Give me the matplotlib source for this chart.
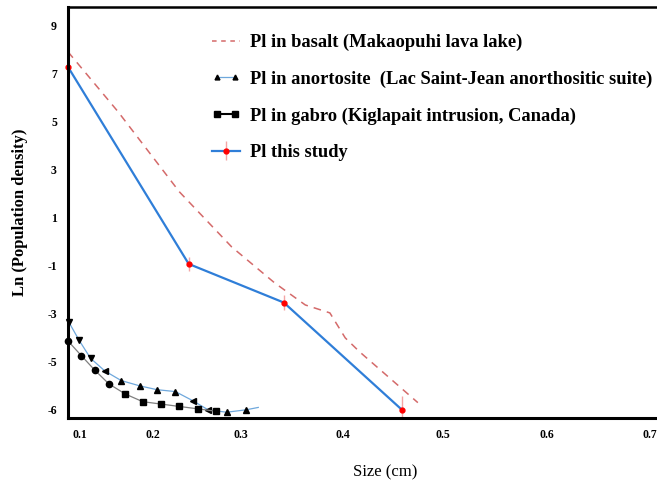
import numpy as np
import matplotlib
matplotlib.use("Agg")
import matplotlib.pyplot as plt
from matplotlib.lines import Line2D
from matplotlib.legend_handler import HandlerLine2D

plt.rcParams['font.family'] = ['Liberation Serif', 'DejaVu Serif']

# Pl in basalt (Makaopuhi lava lake)
basalt_x = [0.131, 0.180, 0.240, 0.291, 0.333, 0.363, 0.387, 0.402, 0.416, 0.473]
basalt_y = [7.92, 5.42, 2.08, -0.21, -1.71, -2.63, -2.96, -4.00, -4.58, -5.85]

# Pl in anortosite (Lac Saint-Jean)
anor_x = [0.132, 0.142, 0.153, 0.167, 0.183, 0.201, 0.218, 0.236, 0.253, 0.268, 0.286, 0.305, 0.317]
anor_y = [-3.36, -4.11, -4.85, -5.19, -5.39, -5.50, -5.58, -5.62, -5.81, -6.00, -6.05, -6.00, -5.95]
anor_markers = ['v', 'v', 'v', '<', '^', '^', '^', '^', '<', '<', '^', '^', '']

# Pl in gabro (Kiglapait)
gab_x = [0.131, 0.144, 0.157, 0.171, 0.187, 0.204, 0.222, 0.240, 0.258, 0.276]
gab_y = [-4.13, -4.74, -5.17, -5.46, -5.67, -5.83, -5.88, -5.93, -5.98, -6.03]
gab_markers = ['o', 'o', 'o', 'o', 's', 's', 's', 's', 's', 's']

# Pl this study
study_x = [0.131, 0.249, 0.342, 0.458]
study_y = [7.29, -0.92, -2.53, -6.01]
study_err = [0.3, 0.3, 0.3, 0.3]

xtick_pos = [0.143, 0.214, 0.300, 0.400, 0.497, 0.599, 0.700]
xtick_labels = ['0.1', '0.2', '0.3', '0.4', '0.5', '0.6', '0.7']
ytick_pos = [9, 7, 5, 3, 1, -1, -3, -5, -6]
ytick_labels = ['9', '7', '5', '3', '1', '-1', '-3', '-5', '-6']


def fwd(y):
    y = np.asarray(y, dtype=float)
    return np.where(y >= -5, y, -5 + 2 * (y + 5))


def inv(y):
    y = np.asarray(y, dtype=float)
    return np.where(y >= -5, y, -5 + (y + 5) / 2)


fig = plt.figure(figsize=(6.57, 4.83), dpi=100)
ax = fig.add_axes([0.1035, 0.1346, 0.8965, 0.851])
ax.set_yscale('function', functions=(fwd, inv))

ax.plot(basalt_x, basalt_y, color='#D46A6A', lw=1.1, dashes=(5, 4))

ax.plot(anor_x, anor_y, color='#6FA8DC', lw=0.9)
for x, y, m in zip(anor_x, anor_y, anor_markers):
    if m:
        ax.plot(x, y, marker=m, color='black', ms=4.5, ls='none', clip_on=False)

ax.plot(gab_x, gab_y, color='#7F7F7F', lw=0.9)
for x, y, m in zip(gab_x, gab_y, gab_markers):
    ax.plot(x, y, marker=m, color='black', ms=4.5, ls='none', clip_on=False)

study = ax.errorbar(study_x, study_y, yerr=study_err, color='#2F7ED8', lw=1.6,
                    marker='o', ms=3.5, mfc='red', mec='red',
                    ecolor='#F4A5A5', elinewidth=1, capsize=0)
study.lines[0].set_clip_on(False)

ax.set_xlim(0.131, 0.7068)
ax.set_ylim(-6.17, 9.79)
ax.set_xticks(xtick_pos)
ax.set_xticklabels(xtick_labels)
ax.set_yticks(ytick_pos)
ax.set_yticklabels(ytick_labels)
ax.minorticks_off()
ax.tick_params(length=0, labelsize=8.5, pad=8)
for lab in ax.get_xticklabels() + ax.get_yticklabels():
    lab.set_fontweight('bold')

ax.spines['right'].set_visible(False)
ax.spines['left'].set_linewidth(2.2)
ax.spines['bottom'].set_linewidth(2.2)
ax.spines['top'].set_linewidth(1.8)

ax.set_ylabel('Ln (Population density)', fontsize=12, fontweight='bold')
ax.yaxis.set_label_coords(-0.068, 0.50)
ax.set_xlabel('Size (cm)', fontsize=12)
ax.xaxis.set_label_coords(0.538, -0.112)

anor_handle = Line2D([], [], color='#6FA8DC', lw=0.9, marker='^', ms=3.5, mfc='black', mec='black')
gab_handle = Line2D([], [], color='black', lw=1.5, marker='s', ms=4.5, mfc='black', mec='black')
handles = [
    Line2D([], [], color='#D46A6A', lw=1.1, dashes=(3, 3)),
    anor_handle,
    gab_handle,
    study,
]
labels = [
    'Pl in basalt (Makaopuhi lava lake)',
    'Pl in anortosite  (Lac Saint-Jean anorthositic suite)',
    'Pl in gabro (Kiglapait intrusion, Canada)',
    'Pl this study',
]
leg = fig.legend(handles, labels, loc='upper left', bbox_to_anchor=(0.322, 0.93),
                 frameon=False, prop={'weight': 'bold', 'size': 13.35},
                 handlelength=1.55, handletextpad=0.5, labelspacing=1.05,
                 borderaxespad=0, borderpad=0, numpoints=1,
                 handler_map={anor_handle: HandlerLine2D(numpoints=2),
                              gab_handle: HandlerLine2D(numpoints=2)})

fig.savefig('out.png', dpi=100)
